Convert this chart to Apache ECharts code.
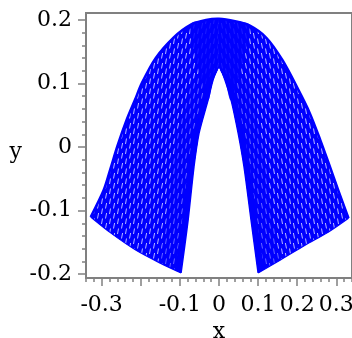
<!DOCTYPE html>
<html>
<head>
<meta charset="utf-8">
<script src="https://cdn.jsdelivr.net/npm/echarts@6.0.0/dist/echarts.min.js"></script>
<style>
  html, body { margin: 0; padding: 0; background: #fff; }
  #chart { width: 352px; height: 338px; }
</style>
</head>
<body>
<div id="chart"></div>
<script>
// Outer rim of the arch: left foot -> crest -> right foot
const outerEdge = [
  [-0.328, -0.110], [-0.295, -0.068], [-0.277, -0.033], [-0.259, 0.003],
  [-0.236, 0.043], [-0.215, 0.074], [-0.197, 0.101], [-0.162, 0.140],
  [-0.115, 0.173], [-0.074, 0.192], [-0.033, 0.200], [0, 0.202],
  [0.041, 0.198], [0.079, 0.191], [0.121, 0.172], [0.162, 0.137],
  [0.203, 0.090], [0.231, 0.055], [0.259, 0.011], [0.282, -0.028],
  [0.305, -0.068], [0.331, -0.112]
];
// Inner hollow of the arch: left foot -> apex -> right foot
const innerEdge = [
  [-0.097, -0.198], [-0.079, -0.115], [-0.064, -0.031], [-0.051, 0.022],
  [-0.028, 0.074], [-0.015, 0.106], [0, 0.126], [0.015, 0.106],
  [0.031, 0.074], [0.049, 0.022], [0.064, -0.031], [0.082, -0.115],
  [0.100, -0.198]
];
// Lower edges of the two legs: outer corner -> inner foot
const footLeft = [
  [-0.328, -0.110], [-0.277, -0.135], [-0.213, -0.162], [-0.149, -0.183], [-0.097, -0.198]
];
const footRight = [
  [0.331, -0.112], [0.279, -0.134], [0.221, -0.154], [0.156, -0.178], [0.100, -0.198]
];

// Axis ticks and labels
const xMajorTicks = [-0.3, -0.2, -0.1, 0, 0.1, 0.2, 0.3];
const xLabelValues = [-0.3, -0.1, 0, 0.1, 0.2, 0.3];
const xMinorTicks = [-0.34, -0.32, -0.28, -0.26, -0.24, -0.22, -0.18, -0.16, -0.14, -0.12,
  -0.08, -0.06, -0.04, -0.02, 0.02, 0.04, 0.06, 0.08, 0.12, 0.14, 0.16, 0.18,
  0.22, 0.24, 0.26, 0.28, 0.32, 0.34];
const yMajorTicks = [-0.2, -0.1, 0, 0.1, 0.2];
const yLabelValues = [-0.2, -0.1, 0, 0.1, 0.2];
const yMinorTicks = [-0.18, -0.16, -0.14, -0.12, -0.08, -0.06, -0.04, -0.02,
  0.02, 0.04, 0.06, 0.08, 0.12, 0.14, 0.16, 0.18];

const BLUE = '#0000ff';
const AXIS_GRAY = '#808080';
const FONT = 'DejaVu Serif';

// Blue tile with short white streaks, leaning with the leg it fills
function streakTile(leanRight) {
  const w = 8, h = 10;
  const c = document.createElement('canvas');
  c.width = w; c.height = h;
  const g = c.getContext('2d');
  g.fillStyle = BLUE;
  g.fillRect(0, 0, w, h);
  g.strokeStyle = 'rgba(255,255,255,0.8)';
  g.lineWidth = 0.9;
  const dash = (x0, y0, x1, y1) => {
    if (!leanRight) { x0 = w - x0; x1 = w - x1; }
    g.beginPath(); g.moveTo(x0, y0); g.lineTo(x1, y1); g.stroke();
  };
  dash(1.5, 8.5, 2.6, 3.0);
  dash(5.5, 4.0, 6.5, -1.5);
  dash(5.5, 14.0, 6.5, 8.5);
  return c;
}
const leftTile = streakTile(true);
const rightTile = streakTile(false);

function fmt(v) {
  const r = Math.round(v * 10) / 10;
  return r === 0 ? '0' : String(r);
}

// y (in pixels) of a pixel-space polyline at pixel column x
function edgeYAt(pts, x) {
  for (let i = 0; i < pts.length - 1; i++) {
    const a = pts[i], b = pts[i + 1];
    const lo = Math.min(a[0], b[0]), hi = Math.max(a[0], b[0]);
    if (x >= lo && x <= hi && hi > lo) {
      return a[1] + (b[1] - a[1]) * (x - a[0]) / (b[0] - a[0]);
    }
  }
  return null;
}

function renderArch(params, api) {
  const P = p => api.coord(p);
  const leftOuter = outerEdge.filter(p => p[0] <= 0);
  const rightOuter = outerEdge.filter(p => p[0] >= 0);
  const leftInner = innerEdge.filter(p => p[0] <= 0);
  const rightInner = innerEdge.filter(p => p[0] >= 0);

  const leftLeg = [].concat(leftOuter, leftInner.slice().reverse(), footLeft.slice().reverse()).map(P);
  const rightLeg = [].concat(rightOuter, footRight, rightInner.slice().reverse()).map(P);

  // dense crest around the top of the arch
  const crestOuter = outerEdge.filter(p => Math.abs(p[0]) <= 0.08);
  const crestInner = innerEdge.filter(p => Math.abs(p[0]) <= 0.032).reverse();
  const crest = [].concat(crestOuter, crestInner).map(P);

  // strip running along the hollow, d pixels wide into the leg, ending on the foot edge
  const strip = (pts, foot, d) => {
    const footPx = foot.map(P);
    const a = pts.map(P);
    const b = pts.map(p => {
      const q = P(p);
      const s = p[0] < 0 ? -d : (p[0] > 0 ? d : 0);
      return [q[0] + s, q[1]];
    });
    // the lowest shifted point sits on the foot edge
    const lowIdx = b[0][1] > b[b.length - 1][1] ? 0 : b.length - 1;
    const fy = edgeYAt(footPx, b[lowIdx][0]);
    if (fy !== null) b[lowIdx] = [b[lowIdx][0], fy];
    return a.concat(b.reverse());
  };

  return {
    type: 'group',
    children: [
      { type: 'polygon', shape: { points: leftLeg, smooth: 0.15 }, style: { fill: { image: leftTile, repeat: 'repeat' } } },
      { type: 'polygon', shape: { points: rightLeg, smooth: 0.15 }, style: { fill: { image: rightTile, repeat: 'repeat' } } },
      { type: 'polygon', shape: { points: strip(leftInner, footLeft, 22) }, style: { fill: 'rgba(0,0,255,0.45)' } },
      { type: 'polygon', shape: { points: strip(rightInner, footRight, 22) }, style: { fill: 'rgba(0,0,255,0.45)' } },
      { type: 'polygon', shape: { points: strip(leftInner, footLeft, 6) }, style: { fill: BLUE } },
      { type: 'polygon', shape: { points: strip(rightInner, footRight, 6) }, style: { fill: BLUE } },
      { type: 'polygon', shape: { points: crest, smooth: 0.3 }, style: { fill: 'rgba(0,0,255,0.85)' } },
      { type: 'polyline', shape: { points: outerEdge.map(P), smooth: 0.3 }, style: { fill: null, stroke: BLUE, lineWidth: 2.5 } },
      { type: 'polyline', shape: { points: innerEdge.map(P), smooth: 0.3 }, style: { fill: null, stroke: BLUE, lineWidth: 1.5 } },
      { type: 'polyline', shape: { points: footLeft.map(P), smooth: 0.3 }, style: { fill: null, stroke: BLUE, lineWidth: 1.2 } },
      { type: 'polyline', shape: { points: footRight.map(P), smooth: 0.3 }, style: { fill: null, stroke: BLUE, lineWidth: 1.2 } }
    ]
  };
}

const labelStyle = { color: '#000', fontFamily: FONT, fontSize: 22 };

const chart = echarts.init(document.getElementById('chart'), null, { renderer: 'canvas' });
chart.setOption({
  animation: false,
  backgroundColor: '#fff',
  grid: {
    left: 86, right: 0, top: 13, bottom: 60,
    outerBoundsMode: 'none',
    containLabel: false,
    show: true, borderColor: AXIS_GRAY, borderWidth: 2, backgroundColor: 'transparent'
  },
  xAxis: [
    {
      type: 'value', min: -0.34, max: 0.34, position: 'bottom',
      axisLine: { show: true, onZero: false, lineStyle: { color: AXIS_GRAY, width: 2 } },
      axisTick: { show: true, inside: false, length: 8, customValues: xMajorTicks, lineStyle: { color: AXIS_GRAY, width: 1.5 } },
      axisLabel: { show: true, customValues: xLabelValues, margin: 16, formatter: fmt, hideOverlap: false, ...labelStyle },
      splitLine: { show: false },
      name: 'x', nameLocation: 'middle', nameGap: 42,
      nameTextStyle: { ...labelStyle }
    },
    {
      type: 'value', min: -0.34, max: 0.34, position: 'bottom',
      axisLine: { show: false, onZero: false },
      axisTick: { show: true, inside: false, length: 4, customValues: xMinorTicks, lineStyle: { color: AXIS_GRAY, width: 1.5 } },
      axisLabel: { show: false },
      splitLine: { show: false }
    }
  ],
  yAxis: [
    {
      type: 'value', min: -0.206, max: 0.211, position: 'left',
      axisLine: { show: true, onZero: false, lineStyle: { color: AXIS_GRAY, width: 2 } },
      axisTick: { show: true, inside: false, length: 8, customValues: yMajorTicks, lineStyle: { color: AXIS_GRAY, width: 1.5 } },
      axisLabel: { show: true, customValues: yLabelValues, margin: 14, formatter: fmt, ...labelStyle },
      splitLine: { show: false },
      name: 'y', nameLocation: 'middle', nameGap: 64, nameRotate: 0,
      nameTextStyle: { ...labelStyle, verticalAlign: 'top', lineHeight: 14 }
    },
    {
      type: 'value', min: -0.206, max: 0.211, position: 'left',
      axisLine: { show: false, onZero: false },
      axisTick: { show: true, inside: false, length: 4, customValues: yMinorTicks, lineStyle: { color: AXIS_GRAY, width: 1.5 } },
      axisLabel: { show: false },
      splitLine: { show: false }
    }
  ],
  series: [
    {
      type: 'custom',
      coordinateSystem: 'cartesian2d',
      xAxisIndex: 0, yAxisIndex: 0,
      data: [[0, 0]],
      clip: false,
      renderItem: renderArch
    }
  ]
});
</script>
</body>
</html>
